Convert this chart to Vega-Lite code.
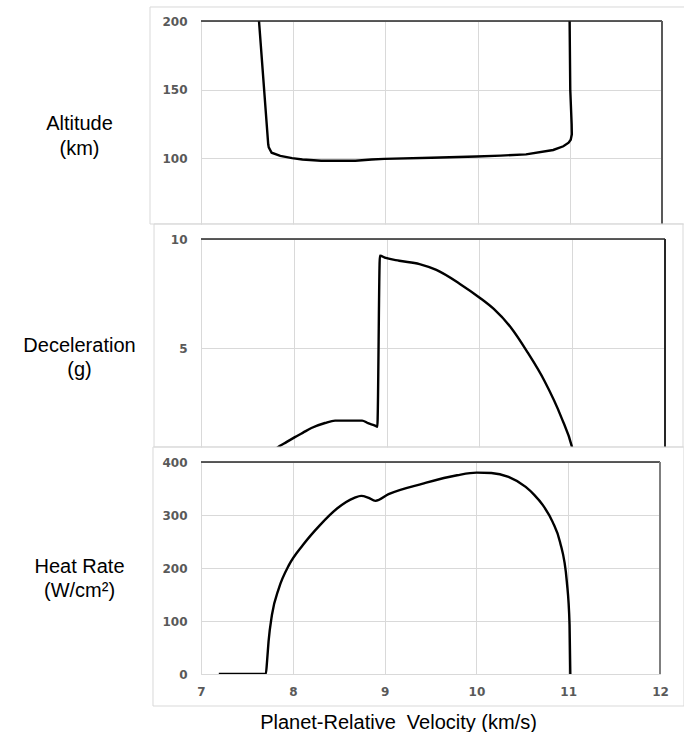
{
  "$schema": "https://vega.github.io/schema/vega-lite/v6.json",
  "background": "white",
  "padding": {"left": 22, "top": 6, "right": 0, "bottom": 0},
  "spacing": 15,
  "bounds": "flush",
  "datasets": {
    "altitude": [
      {"i": 1, "v": 10.998, "alt": 200},
      {"i": 2, "v": 11.005, "alt": 150},
      {"i": 3, "v": 11.02, "alt": 125},
      {"i": 4, "v": 11.022, "alt": 117.5},
      {"i": 5, "v": 11.01, "alt": 113.5},
      {"i": 6, "v": 10.987, "alt": 111.4},
      {"i": 7, "v": 10.93, "alt": 108.8},
      {"i": 8, "v": 10.82, "alt": 106.1},
      {"i": 9, "v": 10.525, "alt": 102.9},
      {"i": 10, "v": 10.25, "alt": 102.0},
      {"i": 11, "v": 9.988, "alt": 101.3},
      {"i": 12, "v": 9.5, "alt": 100.4},
      {"i": 13, "v": 8.988, "alt": 99.6},
      {"i": 14, "v": 8.85, "alt": 99.2},
      {"i": 15, "v": 8.674, "alt": 98.3},
      {"i": 16, "v": 8.5, "alt": 98.2},
      {"i": 17, "v": 8.303, "alt": 98.3},
      {"i": 18, "v": 8.1, "alt": 99.2},
      {"i": 19, "v": 7.988, "alt": 100.2},
      {"i": 20, "v": 7.86, "alt": 101.8},
      {"i": 21, "v": 7.766, "alt": 104.1},
      {"i": 22, "v": 7.735, "alt": 108},
      {"i": 23, "v": 7.729, "alt": 110.2},
      {"i": 24, "v": 7.629, "alt": 200}
    ],
    "decel": [
      {"i": 1, "v": 7.74, "g": 0.1},
      {"i": 2, "v": 7.826, "g": 0.44},
      {"i": 3, "v": 7.9, "g": 0.63},
      {"i": 4, "v": 8.007, "g": 0.9},
      {"i": 5, "v": 8.1, "g": 1.12},
      {"i": 6, "v": 8.19, "g": 1.33},
      {"i": 7, "v": 8.336, "g": 1.56},
      {"i": 8, "v": 8.445, "g": 1.67},
      {"i": 9, "v": 8.736, "g": 1.67},
      {"i": 10, "v": 8.8, "g": 1.55},
      {"i": 11, "v": 8.881, "g": 1.43},
      {"i": 12, "v": 8.9, "g": 1.39},
      {"i": 13, "v": 8.928, "g": 9.23},
      {"i": 14, "v": 8.99, "g": 9.13},
      {"i": 15, "v": 9.136, "g": 9.0},
      {"i": 16, "v": 9.355, "g": 8.85},
      {"i": 17, "v": 9.536, "g": 8.58},
      {"i": 18, "v": 9.79, "g": 7.94},
      {"i": 19, "v": 9.999, "g": 7.32},
      {"i": 20, "v": 10.155, "g": 6.79},
      {"i": 21, "v": 10.337, "g": 5.95},
      {"i": 22, "v": 10.519, "g": 4.8},
      {"i": 23, "v": 10.7, "g": 3.5},
      {"i": 24, "v": 10.883, "g": 1.82},
      {"i": 25, "v": 10.999, "g": 0.44},
      {"i": 26, "v": 11.02, "g": 0.05}
    ],
    "heat": [
      {"i": 1, "v": 7.194, "q": 0},
      {"i": 2, "v": 7.706, "q": 0},
      {"i": 3, "v": 7.72, "q": 25},
      {"i": 4, "v": 7.736, "q": 61.5},
      {"i": 5, "v": 7.773, "q": 111.7},
      {"i": 6, "v": 7.848, "q": 161.7},
      {"i": 7, "v": 7.959, "q": 205.8},
      {"i": 8, "v": 8.11, "q": 243.4},
      {"i": 9, "v": 8.296, "q": 281},
      {"i": 10, "v": 8.482, "q": 312.2},
      {"i": 11, "v": 8.67, "q": 332.3},
      {"i": 12, "v": 8.745, "q": 336.1},
      {"i": 13, "v": 8.82, "q": 332.9},
      {"i": 14, "v": 8.9, "q": 326.7},
      {"i": 15, "v": 9.043, "q": 339.3},
      {"i": 16, "v": 9.417, "q": 359.2},
      {"i": 17, "v": 9.79, "q": 375},
      {"i": 18, "v": 10.003, "q": 379.9},
      {"i": 19, "v": 10.163, "q": 379.3},
      {"i": 20, "v": 10.35, "q": 371.8},
      {"i": 21, "v": 10.537, "q": 353},
      {"i": 22, "v": 10.63, "q": 338},
      {"i": 23, "v": 10.724, "q": 318.6},
      {"i": 24, "v": 10.83, "q": 287},
      {"i": 25, "v": 10.91, "q": 249.6},
      {"i": 26, "v": 10.985, "q": 174.3},
      {"i": 27, "v": 11.015, "q": 92.9},
      {"i": 28, "v": 11.023, "q": 0}
    ],
    "frame": [{"part": "chart area"}]
  },
  "config": {
    "view": {"stroke": null},
    "axis": {
      "labelFont": "DejaVu Sans",
      "labelFontWeight": "bold",
      "labelFontSize": 12,
      "labelColor": "#595959",
      "gridColor": "#d9d9d9",
      "gridWidth": 1,
      "domainColor": "#d9d9d9",
      "ticks": false,
      "tickSize": 0,
      "labelPadding": 14,
      "titleFont": "Liberation Sans",
      "titleFontWeight": "normal",
      "titleFontSize": 20,
      "titleColor": "#000000"
    }
  },
  "vconcat": [
    {
      "width": 461,
      "height": 203,
      "layer": [
        {
          "data": {"name": "frame"},
          "mark": {"type": "rect", "filled": false, "stroke": "#d9d9d9", "strokeWidth": 1, "clip": false},
          "encoding": {
            "x": {"datum": 6.447, "type": "quantitative", "scale": {"domain": [7, 12], "nice": false, "zero": false}},
            "x2": {"datum": 12.33},
            "y": {"datum": 210.2, "type": "quantitative", "scale": {"domain": [52.2, 200], "nice": false, "zero": false}},
            "y2": {"datum": 52.2}
          }
        },
        {
          "data": {"name": "altitude"},
          "mark": {"type": "line", "color": "#000000", "strokeWidth": 2.4, "clip": true},
          "encoding": {
            "x": {"field": "v", "type": "quantitative", "scale": {"domain": [7, 12], "nice": false, "zero": false},
              "axis": {"values": [7, 8, 9, 10, 11, 12], "labels": false, "domain": false, "grid": true, "title": null}},
            "y": {"field": "alt", "type": "quantitative", "scale": {"domain": [52.2, 200], "nice": false, "zero": false},
              "axis": {"values": [100, 150, 200], "format": "d", "grid": true, "domain": true,
                "title": ["Altitude", "(km)"], "titleAngle": 0, "titleAlign": "center", "titleBaseline": "alphabetic",
                "titleX": -122, "titleY": 108, "titleLineHeight": 25}},
            "order": {"field": "i", "type": "quantitative"}
          }
        },
        {
          "data": {"name": "frame"},
          "mark": {"type": "rule", "color": "#262626", "strokeWidth": 1.3},
          "encoding": {"y": {"datum": 200, "type": "quantitative", "scale": {"domain": [52.2, 200], "nice": false, "zero": false}}}
        },
        {
          "data": {"name": "frame"},
          "mark": {"type": "rule", "color": "#595959", "strokeWidth": 2},
          "encoding": {"x": {"datum": 12, "type": "quantitative", "scale": {"domain": [7, 12], "nice": false, "zero": false}}}
        }
      ]
    },
    {
      "width": 464,
      "height": 208,
      "layer": [
        {
          "data": {"name": "frame"},
          "mark": {"type": "rect", "filled": false, "stroke": "#d9d9d9", "strokeWidth": 1, "clip": false},
          "encoding": {
            "x": {"datum": 6.494, "type": "quantitative", "scale": {"domain": [7, 12], "nice": false, "zero": false}},
            "x2": {"datum": 12.194},
            "y": {"datum": 10.69, "type": "quantitative", "scale": {"domain": [0.459, 10], "nice": false, "zero": false}},
            "y2": {"datum": 0.459}
          }
        },
        {
          "data": {"name": "decel"},
          "mark": {"type": "line", "color": "#000000", "strokeWidth": 2.4, "clip": true, "interpolate": "monotone"},
          "encoding": {
            "x": {"field": "v", "type": "quantitative", "scale": {"domain": [7, 12], "nice": false, "zero": false},
              "axis": {"values": [7, 8, 9, 10, 11, 12], "labels": false, "domain": false, "grid": true, "title": null}},
            "y": {"field": "g", "type": "quantitative", "scale": {"domain": [0.459, 10], "nice": false, "zero": false},
              "axis": {"values": [5, 10], "format": "d", "grid": true, "domain": true,
                "title": ["Deceleration", "(g)"], "titleAngle": 0, "titleAlign": "center", "titleBaseline": "alphabetic",
                "titleX": -122, "titleY": 112, "titleLineHeight": 24}},
            "order": {"field": "i", "type": "quantitative"}
          }
        },
        {
          "data": {"name": "frame"},
          "mark": {"type": "rule", "color": "#262626", "strokeWidth": 1.3},
          "encoding": {"y": {"datum": 10, "type": "quantitative", "scale": {"domain": [0.459, 10], "nice": false, "zero": false}}}
        },
        {
          "data": {"name": "frame"},
          "mark": {"type": "rule", "color": "#262626", "strokeWidth": 2},
          "encoding": {"x": {"datum": 12, "type": "quantitative", "scale": {"domain": [7, 12], "nice": false, "zero": false}}}
        }
      ]
    },
    {
      "width": 459,
      "height": 212,
      "layer": [
        {
          "data": {"name": "frame"},
          "mark": {"type": "rect", "filled": false, "stroke": "#d9d9d9", "strokeWidth": 1, "clip": false},
          "encoding": {
            "x": {"datum": 6.477, "type": "quantitative", "scale": {"domain": [7, 12], "nice": false, "zero": false}},
            "x2": {"datum": 12.261},
            "y": {"datum": 428.3, "type": "quantitative", "scale": {"domain": [0, 400], "nice": false, "zero": false}},
            "y2": {"datum": -60.4}
          }
        },
        {
          "data": {"name": "heat"},
          "mark": {"type": "line", "color": "#000000", "strokeWidth": 2.4, "clip": true, "interpolate": "monotone"},
          "encoding": {
            "x": {"field": "v", "type": "quantitative", "scale": {"domain": [7, 12], "nice": false, "zero": false},
              "axis": {"values": [7, 8, 9, 10, 11, 12], "format": "d", "labelFlush": false, "labelPadding": 12, "domain": true, "grid": true,
                "title": "Planet-Relative\u00a0 Velocity (km/s)", "titleAlign": "center", "titleBaseline": "alphabetic",
                "titleX": 197, "titleY": 54}},
            "y": {"field": "q", "type": "quantitative", "scale": {"domain": [0, 400], "nice": false, "zero": false},
              "axis": {"values": [0, 100, 200, 300, 400], "format": "d", "grid": true, "domain": true,
                "title": ["Heat Rate", "(W/cm²)"], "titleAngle": 0, "titleAlign": "center", "titleBaseline": "alphabetic",
                "titleX": -122, "titleY": 110, "titleLineHeight": 24}},
            "order": {"field": "i", "type": "quantitative"}
          }
        },
        {
          "data": {"name": "frame"},
          "mark": {"type": "rule", "color": "#262626", "strokeWidth": 1.3},
          "encoding": {"y": {"datum": 400, "type": "quantitative", "scale": {"domain": [0, 400], "nice": false, "zero": false}}}
        },
        {
          "data": {"name": "frame"},
          "mark": {"type": "rule", "color": "#7f7f7f", "strokeWidth": 2},
          "encoding": {"x": {"datum": 12, "type": "quantitative", "scale": {"domain": [7, 12], "nice": false, "zero": false}}}
        }
      ]
    }
  ]
}
